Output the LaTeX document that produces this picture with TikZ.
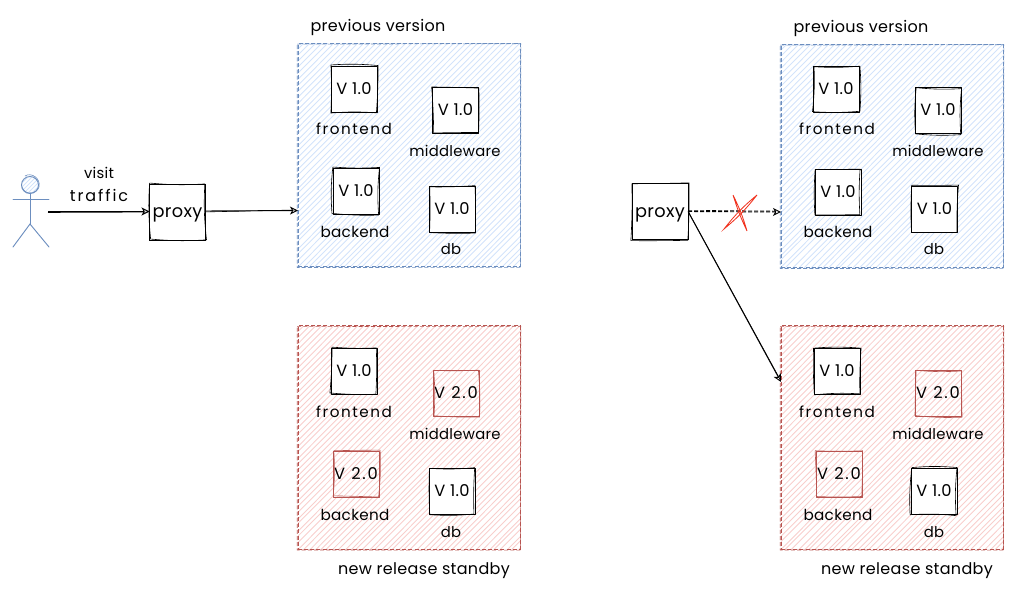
\documentclass[tikz,border=0pt]{standalone}
\usepackage{fontspec}
\setmainfont{Poppins}[LetterSpace=2]
\usetikzlibrary{arrows.meta,calc}
\definecolor{blueedge}{HTML}{6C8EBF}
\definecolor{bluehatch}{HTML}{D3E3FB}
\definecolor{rededge}{HTML}{B85450}
\definecolor{redhatch}{HTML}{F8CECC}
\definecolor{crossred}{HTML}{F0301C}
\newcommand{\fs}[1]{\fontsize{#1}{#1}\selectfont}
\tikzset{
  every node/.style={inner sep=0pt,outer sep=0pt,font=\fs{11.1}},
  svcbox/.style={draw,line width=.7pt,minimum size=34.5pt,line join=round,text height=8pt,text depth=0pt},
  plainsvc/.style={svcbox,fill=white,draw=black,font=\fs{12.2}},
  newsvc/.style={svcbox,draw=rededge,font=\fs{12.2}\addfontfeatures{LetterSpace=11}},
  proxybox/.style={draw=black,fill=white,line width=.7pt,minimum size=42pt,font=\fs{13.3},text height=9pt,text depth=0pt},
  panel/.style={draw,dashed,dash pattern=on 3pt off 1.6pt,line width=.7pt,minimum width=166.5pt,minimum height=167.5pt},
  flow/.style={draw=black,line width=.7pt,-{Stealth[open,length=6pt,width=6pt,inset=1.6pt]}},
  echo/.style={draw=black,line width=.45pt},
  person/.style={draw=blueedge,line width=.7pt,line cap=round},
  cross/.style={draw=crossred,line width=.6pt},
  caption/.style={anchor=center},
  banner/.style={caption,font=\fs{12}},
  widelabel/.style={caption,font=\fs{11.4}\addfontfeatures{LetterSpace=10}},
  backendlabel/.style={caption,font=\fs{11.4}},
  trafficlabel/.style={caption,font=\fs{12}\addfontfeatures{LetterSpace=12}},
  plainsvc edge/.style={draw=black},
  newsvc edge/.style={draw=rededge}
}
% A second, slightly displaced pen stroke round a box
\newcommand{\secondstroke}[2]{%
  \pgfmathsetmacro{\ax}{rand*1.2}\pgfmathsetmacro{\ay}{rand*1.2}%
  \pgfmathsetmacro{\bx}{rand*1.2}\pgfmathsetmacro{\by}{rand*1.2}%
  \pgfmathsetmacro{\cx}{rand*1.2}\pgfmathsetmacro{\cy}{rand*1.2}%
  \pgfmathsetmacro{\dx}{rand*1.2}\pgfmathsetmacro{\dy}{rand*1.2}%
  \pgfmathsetmacro{\ba}{rand*5}\pgfmathsetmacro{\bb}{rand*5}%
  \draw[#2,line width=.45pt]
    ([shift={(\ax,\ay)}]#1.north west) to[bend left=\ba]
    ([shift={(\bx,\by)}]#1.north east) to[bend left=\bb]
    ([shift={(\cx,\cy)}]#1.south east) to[bend right=\ba]
    ([shift={(\dx,\dy)}]#1.south west) to[bend right=\bb]
    ([shift={(\ax,\ay)}]#1.north west);%
}
% A service box with its version text
\newcommand{\svc}[5]{%
  \node[#5] (#1) at (#2,#3) {#4};%
  \secondstroke{#1}{#5 edge}%
}
% Hatched, dashed panel: name, centre x, centre y, edge colour, hatch colour
\newcommand{\panelbox}[5]{%
  \begin{scope}
    \clip ({#2-111},{#3-111.5}) rectangle ({#2+111},{#3+111.5});
    \foreach \k in {0,6,...,450}{
      \pgfmathsetmacro{\jit}{rand*1.3}
      \draw[#5,line width=.65pt]
        ({#2-111-223+\k+\jit},{#3+112}) -- ({#2-111+\k},{#3-112});
    }
  \end{scope}
  \node[panel,draw=#4] (#1) at (#2,#3) {};
  \draw[#4,dashed,dash pattern=on 3pt off 1.6pt,line width=.45pt]
    ([shift={(-.8,.8)}]#1.north west) -- ([shift={(.8,.4)}]#1.north east)
    -- ([shift={(.6,1)}]#1.south east) -- ([shift={(-.8,.8)}]#1.south west) -- cycle;
}
% The four service names of one stack, each at its own position
\newcommand{\labels}[9]{%
  \node[widelabel] (#1a) at (#2,#3) {frontend};
  \node[caption] (#1b) at (#4,#5) {middleware};
  \node[backendlabel] (#1c) at (#6,#7) {backend};
  \node[caption] (#1d) at (#8,#9) {db};
}
\begin{document}
\begin{tikzpicture}[x=.75pt,y=-.75pt]
\useasboundingbox (0,0) rectangle (1027,595);
\pgfmathsetseed{4242}

% ---------- stacks on the left ----------
\panelbox{oldL}{409}{155}{blueedge}{bluehatch}
\panelbox{newL}{409}{437.5}{rededge}{redhatch}
\node[banner] (oldLcap) at (378,27) {previous version};
\node[banner] (newLcap) at (424,570.5) {new release standby};

\svc{lf}{354}{89}{V 1.0}{plainsvc}
\svc{lm}{455.5}{110.5}{V 1.0}{plainsvc}
\svc{lb}{356}{191}{V 1.0}{plainsvc}
\svc{ld}{452}{209}{V 1.0}{plainsvc}
\labels{lt}{354}{129}{455}{151}{355}{232}{451}{249}

\svc{mf}{354}{371}{V 1.0}{plainsvc}
\svc{mm}{456}{393}{V 2.0}{newsvc}
\svc{mb}{356}{474}{V 2.0}{newsvc}
\svc{md}{452}{491.5}{V 1.0}{plainsvc}
\labels{mt}{354}{412}{455}{434}{355}{515}{451}{532}

% ---------- stacks on the right ----------
\panelbox{oldR}{892}{156}{blueedge}{bluehatch}
\panelbox{newR}{892}{437.5}{rededge}{redhatch}
\node[banner] (oldRcap) at (861,28) {previous version};
\node[banner] (newRcap) at (907,570.5) {new release standby};

\svc{rf}{836}{89}{V 1.0}{plainsvc}
\svc{rm}{938}{110.5}{V 1.0}{plainsvc}
\svc{rb}{838}{192}{V 1.0}{plainsvc}
\svc{rd}{934.5}{209}{V 1.0}{plainsvc}
\labels{rt}{837}{129}{938}{151}{838}{232}{934}{249}

\svc{sf}{837}{371}{V 1.0}{plainsvc}
\svc{sm}{938}{393}{V 2.0}{newsvc}
\svc{sb}{839}{474}{V 2.0}{newsvc}
\svc{sd}{934}{491.5}{V 1.0}{plainsvc}
\labels{st}{837}{412}{938}{434}{838}{515}{934}{532}

% ---------- visitor ----------
\begin{scope}
  \clip (30,185) circle (8);
  \foreach \k in {-14,-10,...,14}
    \draw[bluehatch,line width=.6pt] ({30+\k-10},195) -- ({30+\k+10},175);
\end{scope}
\draw[person] (30,185) circle (8.5);
\draw[person,line width=.45pt] (25,176) .. controls (31,172) and (41,178) .. (39,187)
  .. controls (37,194) and (25,196) .. (22,187);
\draw[person] (30,193) -- (30,224);
\draw[person] (13,199) -- (49,199);
\draw[person] (30,224) -- (13,247);
\draw[person] (30,224) -- (49,247);
\coordinate (visitor) at (48,211.5);

% ---------- proxies and traffic ----------
\node[proxybox] (proxyL) at (177.5,212) {proxy};
\secondstroke{proxyL}{draw=black}
\node[proxybox] (proxyR) at (660,211.5) {proxy};
\secondstroke{proxyR}{draw=black}

\node[caption] (visit) at (99,173) {visit};
\node[trafficlabel] (traffic) at (99,195) {traffic};

\draw[flow] (visitor) -- (proxyL.west |- visitor);
\draw[echo] ($(visitor)+(0,1)$) -- ($(proxyL.west |- visitor)+(-2,.6)$);
\draw[flow] (proxyL.east |- 0,211) -- (oldL.west |- 0,210.5);
\draw[echo] ($(proxyL.east |- 0,211)+(0,.9)$) -- ($(oldL.west |- 0,210.5)+(-2,-.5)$);

\coordinate (blocked) at (oldR.west |- 0,212);
\coordinate (rerouted) at (781,382);
\draw[flow,dashed,dash pattern=on 3pt off 1.5pt] (proxyR.east) -- (blocked);
\draw[echo,dashed,dash pattern=on 3pt off 1.5pt] ($(proxyR.east)+(0,-1.2)$) -- ($(blocked)+(-3,-.9)$);
\draw[flow] (proxyR.east) -- (rerouted);
\draw[echo] ($(proxyR.east)+(.4,.3)$) -- ($(rerouted)+(-.6,-2)$);

% the refused route is struck through
\coordinate (xa) at (733,195);
\coordinate (xb) at (747,231);
\coordinate (xc) at (757,195);
\coordinate (xd) at (724,229);
\draw[cross] (xa) to[bend left=5] (xb) to[bend left=4] (xa);
\draw[cross] (xc) to[bend left=6] (xd) to[bend left=6] (xc);
\end{tikzpicture}
\end{document}
